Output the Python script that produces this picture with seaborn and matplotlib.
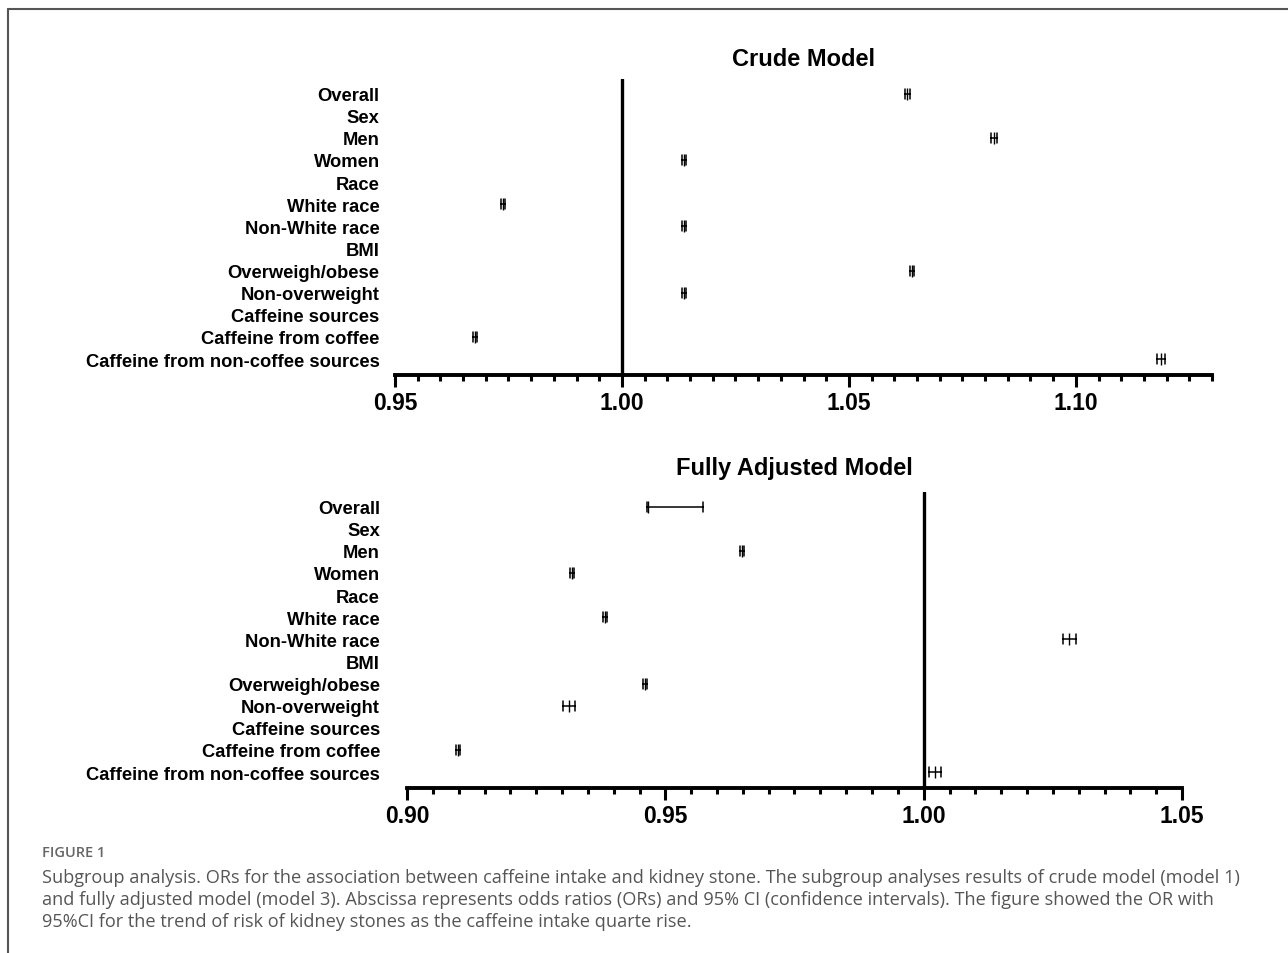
import pandas as pd
import matplotlib.pyplot as plt
import matplotlib.ticker as mticker
import seaborn as sns

# subgroup rows (header rows carry no estimate)
labels = ["Overall", "Sex", "Men", "Women", "Race", "White race", "Non-White race",
          "BMI", "Overweigh/obese", "Non-overweight", "Caffeine sources",
          "Caffeine from coffee", "Caffeine from non-coffee sources"]
groups = ["Overall", "Men", "Women", "White race", "Non-White race",
          "Overweigh/obese", "Non-overweight", "Caffeine from coffee",
          "Caffeine from non-coffee sources"]

# crude model: OR, lower, upper
crude_or = [1.0628, 1.0819, 1.0137, 0.9738, 1.0137, 1.0639, 1.0137, 0.9676, 1.1187]
crude_lo = [1.0623, 1.0812, 1.0132, 0.9734, 1.0132, 1.0635, 1.0132, 0.9672, 1.1178]
crude_hi = [1.0634, 1.0826, 1.0142, 0.9742, 1.0142, 1.0644, 1.0142, 0.9681, 1.1196]

# fully adjusted model
adj_or = [0.9466, 0.9649, 0.9320, 0.9384, 1.0282, 0.9460, 0.9314, 0.9099, 1.0022]
adj_lo = [0.9464, 0.9645, 0.9316, 0.9380, 1.0269, 0.9456, 0.9302, 0.9095, 1.0011]
adj_hi = [0.9573, 0.9653, 0.9324, 0.9388, 1.0295, 0.9464, 0.9326, 0.9103, 1.0033]

caption = ("Subgroup analysis. ORs for the association between caffeine intake and kidney stone. "
           "The subgroup analyses results of crude model (model 1)\n"
           "and fully adjusted model (model 3). Abscissa represents odds ratios (ORs) and 95% CI "
           "(confidence intervals). The figure showed the OR with\n"
           "95%CI for the trend of risk of kidney stones as the caffeine intake quarte rise.")


def long_frame(ors, los, his):
    rows = []
    for g, o, l, h in zip(groups, ors, los, his):
        for v in (l, o, h):
            rows.append({"label": g, "value": v})
    return pd.DataFrame(rows)


def forest(ax, df, title, xlim, title_pad, label_pad):
    sns.pointplot(data=df, x="value", y="label", order=labels, ax=ax,
                  estimator="median", errorbar=("pi", 100), color="black",
                  marker="|", linestyle="none", markersize=9, markeredgewidth=1.0,
                  capsize=0.45, err_kws={"linewidth": 1.1})
    ax.axvline(1.0, color="black", linewidth=2.4)
    ax.set_xlim(*xlim)
    ax.set_ylim(12.72, -0.66)
    ax.set_xlabel("")
    ax.set_ylabel("")
    ax.set_title(title, fontsize=17, fontweight="bold", pad=title_pad, color="black")
    for s in ["top", "right", "left"]:
        ax.spines[s].set_visible(False)
    ax.spines["bottom"].set_linewidth(2.8)
    ax.spines["bottom"].set_color("black")
    ax.xaxis.set_major_locator(mticker.MultipleLocator(0.05))
    ax.xaxis.set_minor_locator(mticker.MultipleLocator(0.005))
    ax.xaxis.set_major_formatter(mticker.FormatStrFormatter("%.2f"))
    ax.tick_params(axis="x", which="both", bottom=True, color="black", labelcolor="black")
    ax.tick_params(axis="x", which="major", length=8.5, width=2.2, pad=3, labelsize=16.5)
    ax.tick_params(axis="x", which="minor", length=4.5, width=2.2)
    ax.tick_params(axis="y", length=0, pad=label_pad, labelsize=13.2, labelcolor="black")
    for t in ax.get_xticklabels() + ax.get_yticklabels():
        t.set_fontweight("bold")


sns.set_style("white")
plt.rcParams["font.family"] = ["Liberation Sans", "DejaVu Sans"]

fig = plt.figure(figsize=(12.88, 9.54), dpi=100)
W, H = 1288, 954
ax1 = fig.add_axes([395 / W, 1 - 376 / H, (1212 - 395) / W, (376 - 80) / H])
ax2 = fig.add_axes([407 / W, 1 - 789 / H, (1182 - 407) / W, (789 - 493) / H])

forest(ax1, long_frame(crude_or, crude_lo, crude_hi), "Crude Model", (0.95, 1.13), 10, 11)
forest(ax2, long_frame(adj_or, adj_lo, adj_hi), "Fully Adjusted Model", (0.90, 1.05), 13, 19.5)

# page frame
fig.add_artist(plt.Line2D([8 / W, 1], [1 - 10 / H, 1 - 10 / H], color="#555555", linewidth=1.5))
fig.add_artist(plt.Line2D([8 / W, 8 / W], [0, 1 - 10 / H], color="#555555", linewidth=1.5))

fig.text(42 / W, 1 - 853 / H, "FIGURE 1", fontsize=10.5, color="#666666",
         family="Open Sans", fontweight="semibold", va="center")
fig.text(42 / W, 1 - 869 / H, caption, fontsize=13.1, color="#555555",
         family="Open Sans", va="top", linespacing=1.27)

fig.savefig("out.png", dpi=100)
